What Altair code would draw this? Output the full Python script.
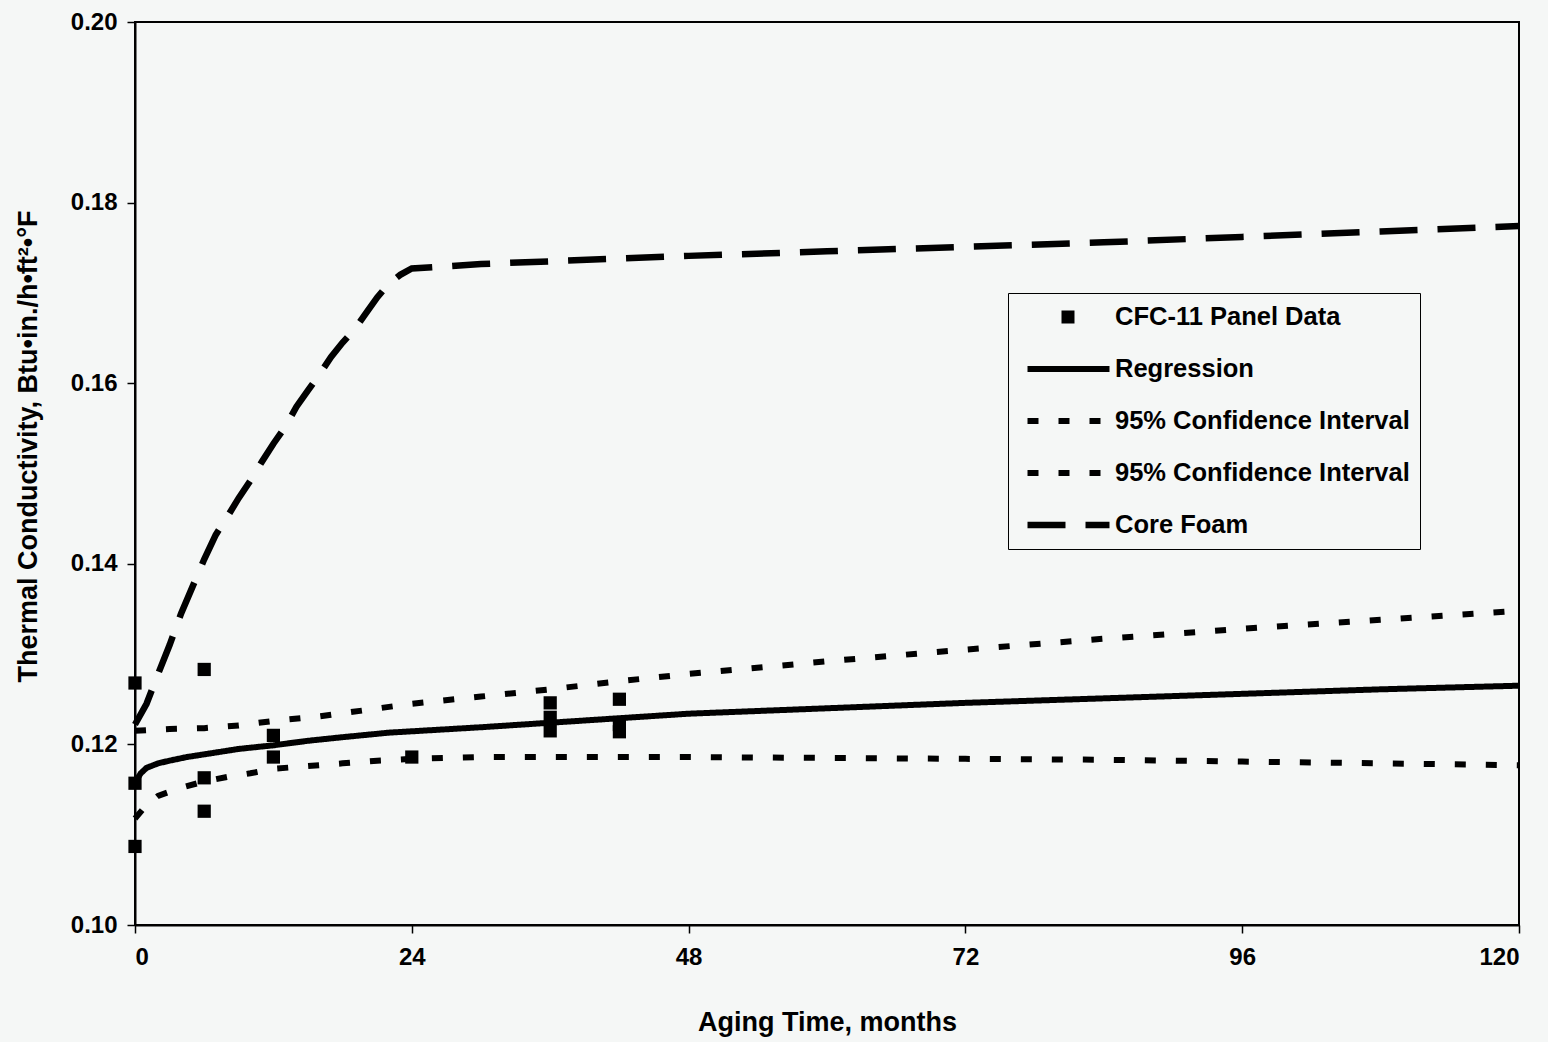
import altair as alt
import pandas as pd

# ---------------- data ----------------
panel_months = [0, 0, 0, 6, 6, 6, 12, 12, 24, 36, 36, 36, 42, 42, 42]
panel_k = [0.1268, 0.1157, 0.1087, 0.1283, 0.1163, 0.1126, 0.1210, 0.1186,
           0.1186, 0.1246, 0.1230, 0.1215, 0.1250, 0.1222, 0.1214]

reg_months = [0, 0.5, 1, 2, 3, 4.5, 6, 9, 12, 15, 18, 22, 26, 30, 36, 42, 48,
              60, 72, 84, 96, 108, 120]
reg_k = [0.1158, 0.1168, 0.1174, 0.1179, 0.1182, 0.1186, 0.1189, 0.1195,
         0.1199, 0.1204, 0.1208, 0.1213, 0.1216, 0.1219, 0.1224, 0.1229,
         0.1234, 0.1240, 0.1246, 0.1251, 0.1256, 0.1261, 0.1265]

upper_months = [0, 3, 6, 9, 12, 16, 20, 24, 30, 36, 42, 48, 60, 72, 84, 96, 108, 120]
upper_k = [0.1215, 0.1217, 0.1218, 0.1221, 0.1226, 0.1231, 0.1238, 0.1245,
           0.1253, 0.1261, 0.1270, 0.1278, 0.1292, 0.1305, 0.1317, 0.1328,
           0.1338, 0.1348]

lower_months = [0, 1, 2, 4, 6, 8, 10, 12, 15, 18, 21, 24, 30, 36, 48, 60, 72,
                84, 96, 108, 120]
lower_k = [0.1118, 0.1133, 0.1143, 0.1152, 0.1159, 0.1164, 0.1168, 0.1173,
           0.1176, 0.1179, 0.1182, 0.1184, 0.1186, 0.1186, 0.1186, 0.1185,
           0.1184, 0.1183, 0.1181, 0.1179, 0.1177]

core_months = [0, 1, 2, 3, 4, 5, 6, 7, 8, 9, 10, 11, 12, 13, 14, 15, 16, 17,
               18, 19, 20, 21, 22, 23, 24, 30, 36, 48, 60, 72, 84, 96, 108, 120]
core_k = [0.1222, 0.1245, 0.1278, 0.1310, 0.1345, 0.1375, 0.1405, 0.1432,
          0.1452, 0.1473, 0.1492, 0.1513, 0.1533, 0.1551, 0.1574, 0.1592,
          0.1610, 0.1629, 0.1645, 0.1659, 0.1677, 0.1695, 0.1710, 0.1720,
          0.1727, 0.1732, 0.1735, 0.1741, 0.1746, 0.1751, 0.1756, 0.1762,
          0.1768, 0.1774]

series_keys = ["CFC-11 Panel Data", "Regression",
               "95% Confidence Interval (upper)",
               "95% Confidence Interval (lower)", "Core Foam"]

x_ticks = [0, 24, 48, 72, 96, 120]
y_ticks = [0.10, 0.12, 0.14, 0.16, 0.18, 0.20]

# ---------------- tables ----------------
points_df = pd.DataFrame({"month": panel_months, "k": panel_k})

lines_df = pd.concat([
    pd.DataFrame({"month": reg_months, "k": reg_k, "series": series_keys[1]}),
    pd.DataFrame({"month": upper_months, "k": upper_k, "series": series_keys[2]}),
    pd.DataFrame({"month": lower_months, "k": lower_k, "series": series_keys[3]}),
    pd.DataFrame({"month": core_months, "k": core_k, "series": series_keys[4]}),
], ignore_index=True)

FONT = "Liberation Sans"
BG = "#f5f7f6"

x_enc = alt.X(
    "month:Q",
    scale=alt.Scale(domain=[0, 120], nice=False, zero=False),
    axis=alt.Axis(values=x_ticks, title="Aging Time, months", labelPadding=12,
                  titleY=84, titleBaseline="top"),
)
y_enc = alt.Y(
    "k:Q",
    scale=alt.Scale(domain=[0.10, 0.20], nice=False, zero=False),
    axis=alt.Axis(values=y_ticks, format=".2f",
                  title="Thermal Conductivity, Btu•in./h•ft²•°F",
                  labelPadding=10, titleX=-107, titleY=424, titleAngle=270,
                  titleBaseline="middle", titleAlign="center"),
)

legend_kw = dict(
    title=None, orient="none", legendX=873, legendY=271,
    symbolType="M0,0H8.2", symbolSize=400, symbolOffset=-7, labelOffset=71,
    rowPadding=24, clipHeight=28,
    padding=10, strokeColor="black", fillColor=BG,
    labelFont=FONT, labelFontSize=25.5, labelFontWeight="bold",
    labelColor="black", labelLimit=400,
    labelExpr="split(datum.label, ' (')[0]",
    symbolStrokeColor="black",
)

lines = alt.Chart(lines_df).mark_line(color="black", strokeCap="butt").encode(
    x=x_enc,
    y=y_enc,
    strokeDash=alt.StrokeDash(
        "series:N",
        scale=alt.Scale(domain=series_keys,
                        range=[[0, 34, 13, 1000], [1, 0], [11, 20], [11, 20], [38, 20]]),
        legend=alt.Legend(**legend_kw),
    ),
    strokeWidth=alt.StrokeWidth(
        "series:N",
        scale=alt.Scale(type="ordinal", domain=series_keys,
                        range=[13, 6, 6, 6, 6.5]),
        legend=alt.Legend(**legend_kw),
    ),
)

points = alt.Chart(points_df).mark_square(
    size=175, color="black", filled=True, opacity=1
).encode(x=x_enc, y=y_enc)

chart = (
    alt.layer(lines, points)
    .properties(
        width=1384, height=903,
        autosize=alt.AutoSizeParams(type="none"),
        padding={"left": 135, "top": 22, "right": 29, "bottom": 117},
        background=BG,
    )
    .configure_view(stroke="black", strokeWidth=2)
    .configure_axis(
        grid=False, domainColor="black", domainWidth=2, tickColor="black",
        tickWidth=1.5, tickSize=8, labelFont=FONT, labelFontSize=24,
        labelFontWeight="bold", labelColor="black", titleFont=FONT,
        titleFontSize=27, titleFontWeight="bold", titleColor="black",
    )
)

chart.save("out.html", embed_options={"renderer": "svg", "actions": False})
